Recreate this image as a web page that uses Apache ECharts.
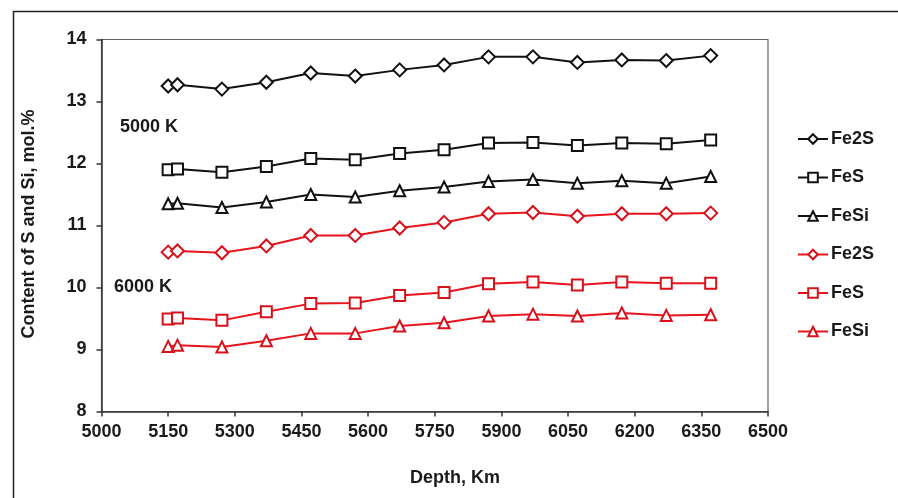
<!DOCTYPE html>
<html>
<head>
<meta charset="utf-8">
<script src="https://cdn.jsdelivr.net/npm/echarts@6/dist/echarts.min.js"></script>
<style>
html,body{margin:0;padding:0;background:#fff;}
#chart{width:898px;height:498px;}
</style>
</head>
<body>
<div id="chart"></div>
<script>
// Depth, km
var depths = [5150, 5171, 5271, 5371, 5471, 5571, 5671, 5771, 5871, 5971, 6071, 6171, 6271, 6371];
// 5000 K
var fe2s5000 = [13.25, 13.27, 13.20, 13.31, 13.46, 13.41, 13.51, 13.59, 13.72, 13.72, 13.63, 13.67, 13.66, 13.74];
var fes5000  = [11.90, 11.91, 11.86, 11.95, 12.08, 12.06, 12.16, 12.22, 12.33, 12.34, 12.29, 12.33, 12.32, 12.38];
var fesi5000 = [11.35, 11.36, 11.29, 11.38, 11.50, 11.46, 11.56, 11.62, 11.71, 11.74, 11.68, 11.72, 11.68, 11.79];
// 6000 K
var fe2s6000 = [10.57, 10.59, 10.56, 10.67, 10.84, 10.84, 10.96, 11.05, 11.19, 11.21, 11.15, 11.19, 11.19, 11.20];
var fes6000  = [9.49, 9.51, 9.47, 9.61, 9.74, 9.75, 9.87, 9.92, 10.06, 10.09, 10.04, 10.09, 10.07, 10.07];
var fesi6000 = [9.05, 9.07, 9.04, 9.14, 9.26, 9.26, 9.38, 9.43, 9.54, 9.57, 9.54, 9.59, 9.55, 9.56];

var seriesNames = ['Fe2S|5000', 'FeS|5000', 'FeSi|5000', 'Fe2S|6000', 'FeS|6000', 'FeSi|6000'];
var seriesValues = [fe2s5000, fes5000, fesi5000, fe2s6000, fes6000, fesi6000];
var symbols = ['diamond', 'rect', 'triangle', 'diamond', 'rect', 'triangle'];
var symbolSizes = [13, 11, 11, 13, 11, 11];
var lineColors = ['#111111', '#111111', '#111111', '#e8141c', '#e8141c', '#e8141c'];
var markerColors = ['#111111', '#111111', '#111111', '#d8101a', '#d8101a', '#d8101a'];

var FONT = '"Liberation Sans", Arial, sans-serif';

var series = seriesNames.map(function (name, i) {
  return {
    name: name,
    type: 'line',
    data: depths.map(function (d, j) { return [d, seriesValues[i][j]]; }),
    symbol: symbols[i],
    symbolSize: symbolSizes[i],
    showAllSymbol: true,
    lineStyle: { color: lineColors[i], width: 2 },
    itemStyle: { color: '#ffffff', borderColor: markerColors[i], borderWidth: 2 },
    emphasis: { disabled: true },
    z: 3
  };
});

var chart = echarts.init(document.getElementById('chart'), null, { renderer: 'canvas' });
chart.setOption({
  animation: false,
  backgroundColor: '#ffffff',
  grid: { left: 101.5, right: 130, top: 39.5, bottom: 86.5, show: true, borderColor: '#666', borderWidth: 1.2, backgroundColor: 'transparent' },
  xAxis: {
    type: 'value', min: 5000, max: 6500, interval: 150,
    axisLine: { show: true, lineStyle: { color: '#333', width: 1.5 } },
    axisTick: { show: true, length: 5, lineStyle: { color: '#333', width: 1.5 } },
    splitLine: { show: false },
    axisLabel: { color: '#1a1a1a', fontSize: 18, fontWeight: 'bold', fontFamily: FONT, margin: 12,
      formatter: function (v) { return String(v); } }
  },
  yAxis: {
    type: 'value', min: 8, max: 14, interval: 1,
    axisLine: { show: true, lineStyle: { color: '#333', width: 1.5 } },
    axisTick: { show: true, length: 5, lineStyle: { color: '#333', width: 1.5 } },
    splitLine: { show: false },
    axisLabel: { color: '#1a1a1a', fontSize: 18, fontWeight: 'bold', fontFamily: FONT, margin: 15,
      formatter: function (v) { return String(v); } }
  },
  legend: {
    orient: 'vertical',
    left: 792, top: 125,
    itemWidth: 30, itemHeight: 12, itemGap: 20.5,
    selectedMode: false,
    formatter: function (name) { return name.split('|')[0]; },
    textStyle: { color: '#1a1a1a', fontSize: 18, fontWeight: 'bold', fontFamily: FONT, lineHeight: 18, padding: [0, 0, 0, -2] },
    data: seriesNames
  },
  graphic: [
    { type: 'rect', left: 11, top: 9, shape: { width: 900, height: 500 }, style: { fill: 'none', stroke: '#222', lineWidth: 1.5 }, silent: true, z: -1 },
    { type: 'text', x: 29, y: 224, rotation: Math.PI / 2, style: { text: 'Content of S and Si, mol.%', fill: '#1a1a1a', font: 'bold 18px ' + FONT, align: 'center', verticalAlign: 'middle' } },
    { type: 'text', x: 455, y: 478, style: { text: 'Depth, Km', fill: '#1a1a1a', font: 'bold 18px ' + FONT, align: 'center', verticalAlign: 'middle' } },
    { type: 'text', x: 120, y: 127, style: { text: '5000 K', fill: '#1a1a1a', font: 'bold 18px ' + FONT, align: 'left', verticalAlign: 'middle' } },
    { type: 'text', x: 114, y: 287, style: { text: '6000 K', fill: '#1a1a1a', font: 'bold 18px ' + FONT, align: 'left', verticalAlign: 'middle' } }
  ],
  series: series
});
</script>
</body>
</html>
